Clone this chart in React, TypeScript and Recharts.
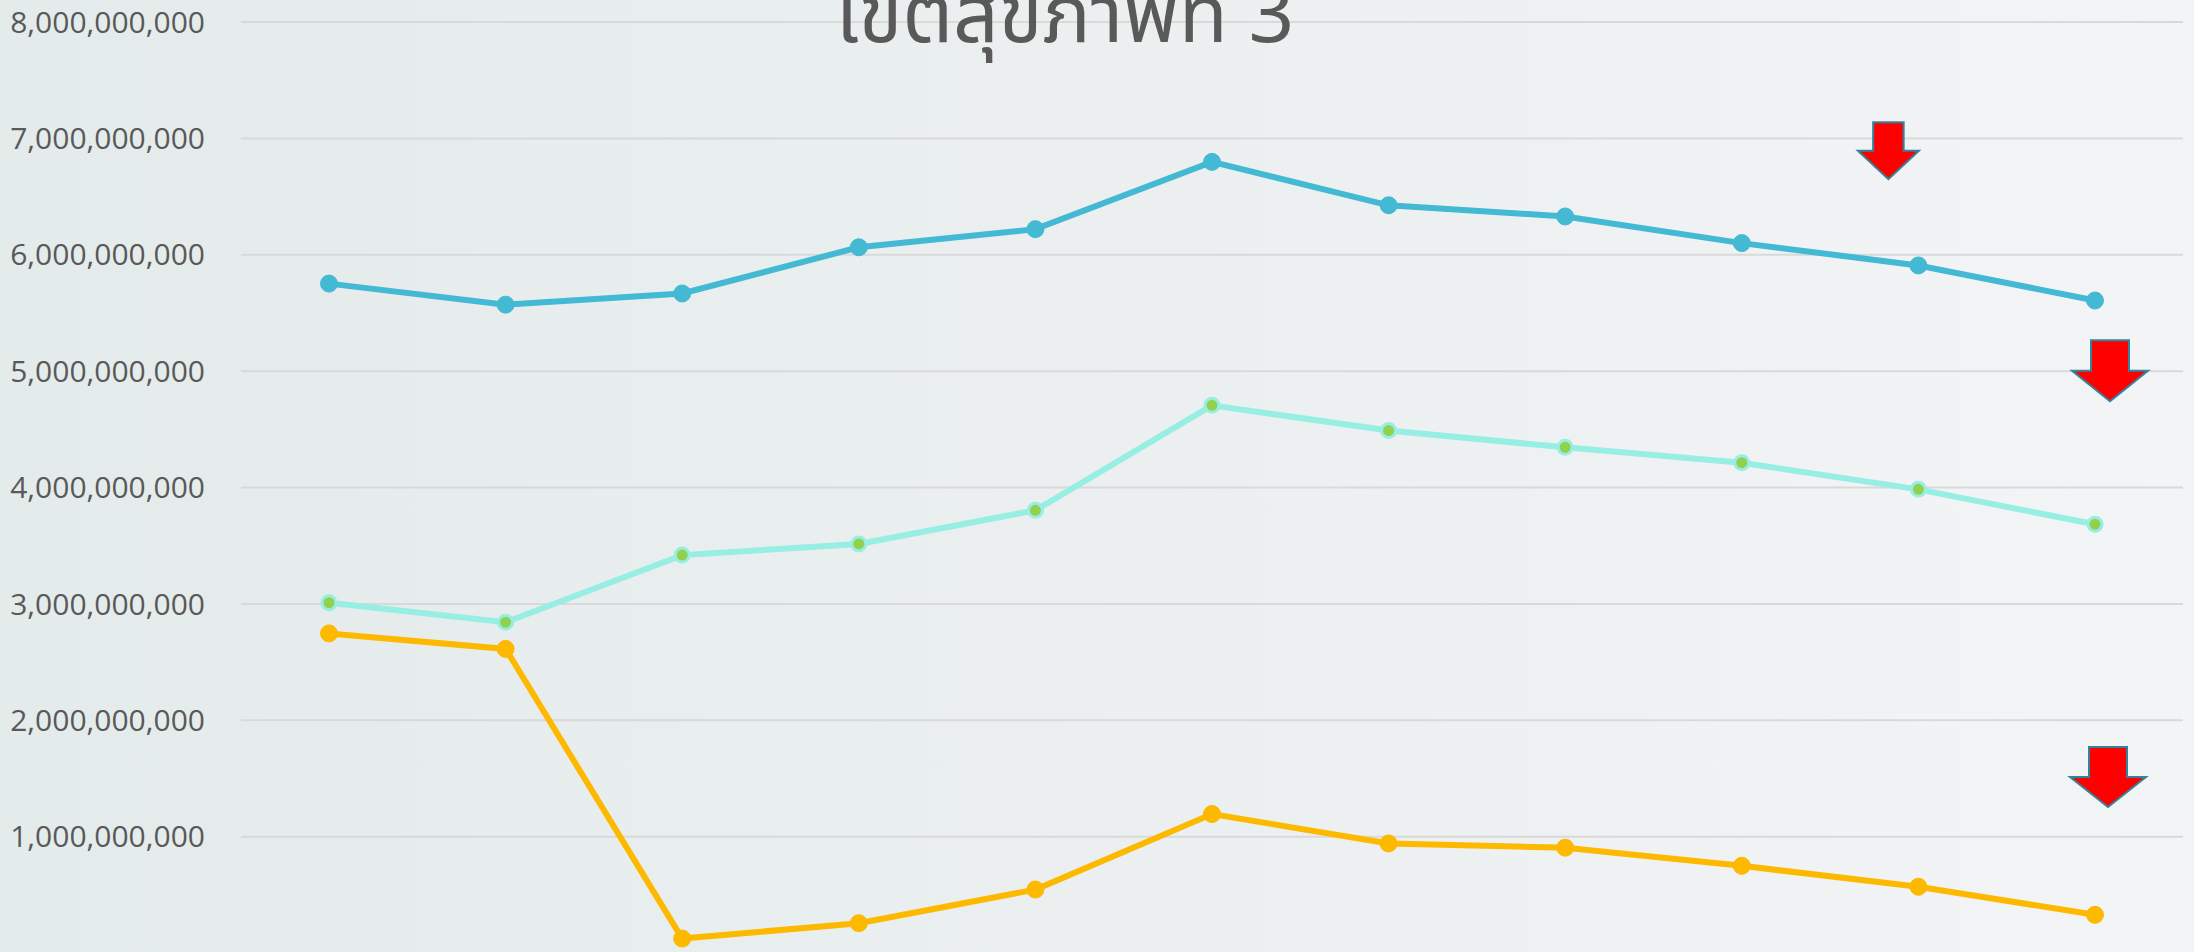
import React from "react";
import { LineChart, Line, XAxis, YAxis, CartesianGrid, ReferenceDot } from "recharts";

const categories = ["2556", "2557", "2558", "2559", "2560", "2561", "2562", "2563", "2564", "2565", "2566"];
const seriesBlue = [5.752e9, 5.571e9, 5.667e9, 6.064e9, 6.22e9, 6.798e9, 6.425e9, 6.329e9, 6.1e9, 5.908e9, 5.607e9];
const seriesAqua = [3.01e9, 2.842e9, 3.419e9, 3.515e9, 3.804e9, 4.706e9, 4.489e9, 4.345e9, 4.213e9, 3.984e9, 3.684e9];
const seriesOrange = [2.746e9, 2.613e9, 0.124e9, 0.256e9, 0.545e9, 1.194e9, 0.941e9, 0.905e9, 0.749e9, 0.569e9, 0.328e9];
const yTicks = [1e9, 2e9, 3e9, 4e9, 5e9, 6e9, 7e9, 8e9];
const titleText = "เขตสุขภาพที่ 3";

// arrow annotations: anchored at a category and the value at the arrow's top
const arrowCats = ["2565", "2566", "2566"];
const arrowTops = [7.139e9, 5.266e9, 1.77e9];

const data = categories.map((c, i) => ({
  cat: c,
  blue: seriesBlue[i],
  aqua: seriesAqua[i],
  orange: seriesOrange[i],
}));

const fmt = (v: number) => v.toLocaleString("en-US");

const makeArrow = (dx: number, w: number, h: number) => (props: any) => {
  const { cx, cy } = props;
  if (cx == null || cy == null) return <g />;
  const x0 = cx + dx - w / 2;
  const sw = w * 0.5;
  const sx = x0 + (w - sw) / 2;
  const hy = cy + h * 0.5;
  const pts = [
    [sx, cy],
    [sx + sw, cy],
    [sx + sw, hy],
    [x0 + w, hy],
    [x0 + w / 2, cy + h],
    [x0, hy],
    [sx, hy],
  ]
    .map((p) => p.join(","))
    .join(" ");
  return <polygon points={pts} fill="#FF0000" stroke="#31849B" strokeWidth={2} />;
};

const arrowShapes = [makeArrow(-30, 61, 57), makeArrow(15, 76, 61), makeArrow(13, 76, 60)];

export default function App() {
  return (
    <div
      style={{
        position: "absolute",
        left: 0,
        top: 0,
        width: 2194,
        height: 952,
        overflow: "hidden",
        background: "linear-gradient(90deg, #E4EBEB 0%, #EBEFEF 50%, #F3F4F6 100%)",
      }}
    >
      <LineChart
        width={2194}
        height={1000}
        data={data}
        margin={{ top: 22, right: 11, bottom: 47, left: 0 }}
      >
        <CartesianGrid vertical={false} stroke="#D9D9D9" strokeWidth={2} />
        <XAxis dataKey="cat" hide padding={{ left: 88, right: 88 }} />
        <YAxis
          width={241}
          domain={[0, 8e9]}
          ticks={yTicks}
          tickFormatter={fmt}
          axisLine={false}
          tickLine={false}
          tickSize={0}
          tickMargin={36}
          tick={{ fill: "#595959", fontSize: 30, fontFamily: "Open Sans" }}
          interval={0}
        />
        <Line
          dataKey="blue"
          stroke="#43B9D3"
          strokeWidth={6}
          dot={{ r: 8.5, fill: "#43B9D3", stroke: "#43B9D3", strokeWidth: 1 }}
          isAnimationActive={false}
        />
        <Line
          dataKey="aqua"
          stroke="#97EEE2"
          strokeWidth={6}
          dot={{ r: 7, fill: "#92D050", stroke: "#97EEE2", strokeWidth: 3 }}
          isAnimationActive={false}
        />
        <Line
          dataKey="orange"
          stroke="#FDB900"
          strokeWidth={6}
          dot={{ r: 8.5, fill: "#FDB900", stroke: "#FDB900", strokeWidth: 1 }}
          isAnimationActive={false}
        />
        {arrowCats.map((c, i) => (
          <ReferenceDot key={i} x={c} y={arrowTops[i]} r={1} shape={arrowShapes[i]} />
        ))}
      </LineChart>
      <svg
        width={2194}
        height={952}
        style={{ position: "absolute", left: 0, top: 0, pointerEvents: "none" }}
      >
        <text
          x={1065}
          y={42}
          textAnchor="middle"
          fontSize={80}
          fill="#595959"
          fontFamily="'Noto Sans Thai', 'Noto Sans', 'DejaVu Sans', sans-serif"
        >
          {titleText}
        </text>
      </svg>
    </div>
  );
}
